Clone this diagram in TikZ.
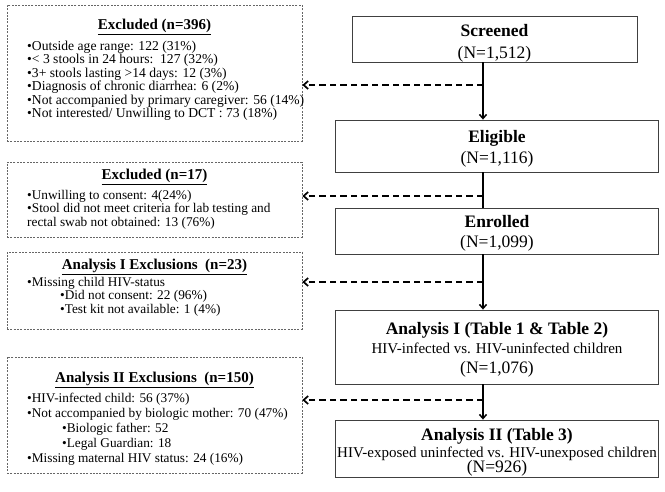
\documentclass[tikz,border=0pt]{standalone}
\usepackage{fontspec}
\setmainfont{Liberation Serif}
\usetikzlibrary{arrows.meta}
\begin{document}
\begin{tikzpicture}[x=1pt,y=-1pt,
  exbox/.style={draw=black!60, line width=0.7pt, dash pattern=on 2pt off 1.3pt, inner sep=0pt},
  mainbox/.style={draw=black!75, line width=0.8pt, inner sep=0pt},
  ttl/.style={anchor=base, font=\fontsize{15}{16}\selectfont\bfseries, inner sep=0pt},
  itm/.style={anchor=base west, font=\fontsize{13.3}{13.4}\selectfont, inner sep=0pt},
  itmb/.style={anchor=base west, font=\fontsize{13.6}{13.4}\selectfont, inner sep=0pt},
  bigb/.style={anchor=base, font=\fontsize{17.5}{20}\selectfont\bfseries, inner sep=0pt},
  bign/.style={anchor=base, font=\fontsize{17.5}{20}\selectfont, inner sep=0pt},
  medn/.style={anchor=base, font=\fontsize{15}{17}\selectfont, inner sep=0pt},
  flow/.style={line width=1.5pt, -{Straight Barb[length=4pt,width=7pt]}},
  flowplain/.style={line width=1.5pt},
  side/.style={line width=1.7pt, dash pattern=on 6.5pt off 4pt, -{Straight Barb[length=4.5pt,width=8pt]}}
]
\useasboundingbox (0,0) rectangle (665,492);

% ---------- left exclusion boxes ----------
\node[exbox, minimum width=295pt, minimum height=136pt] (x1) at (154.5,73) {};
\node[exbox, minimum width=295pt, minimum height=75pt] (x2) at (154.5,199.5) {};
\node[exbox, minimum width=295pt, minimum height=77pt] (x3) at (154.5,290.5) {};
\node[exbox, minimum width=295pt, minimum height=116pt] (x4) at (154.5,415) {};

\node[ttl] (x1t) at (154.5,30) {\underline{Excluded (n=396)}};
\foreach \t [count=\i] in {%
  {•Outside age range: 122 (31\%)},
  {•< 3 stools in 24 hours:\ \ 127 (32\%)},
  {•3+ stools lasting >14 days: 12 (3\%)},
  {•Diagnosis of chronic diarrhea: 6 (2\%)},
  {•Not accompanied by primary caregiver: 56 (14\%)},
  {•Not interested/ Unwilling to DCT : 73 (18\%)}}
  \node[itmb] (x1i\i) at (27,{50.6+13.4*(\i-1)}) {\t};

\node[ttl] (x2t) at (154.5,180) {\underline{Excluded (n=17)}};
\node[itm] (x2i1) at (27,199.4) {•Unwilling to consent: 4(24\%)};
\node[itm] (x2i2) at (27,212.8) {•Stool did not meet criteria for lab testing and};
\node[itm] (x2i3) at (27,226.2) {rectal swab not obtained: 13 (76\%)};

\node[ttl] (x3t) at (154.5,270) {\underline{Analysis I Exclusions\ \ (n=23)}};
\node[itm] (x3i1) at (27,286.4) {•Missing child HIV-status};
\node[itm] (x3i2) at (60,299.8) {•Did not consent: 22 (96\%)};
\node[itm] (x3i3) at (60,313.2) {•Test kit not available: 1 (4\%)};

\node[ttl] (x4t) at (154.5,382.8) {\underline{Analysis II Exclusions\ \ (n=150)}};
\node[itm] (x4i1) at (27,402.4) {•HIV-infected child: 56 (37\%)};
\node[itm] (x4i2) at (27,417.4) {•Not accompanied by biologic mother: 70 (47\%)};
\node[itm] (x4i3) at (62,432.4) {•Biologic father: 52};
\node[itm] (x4i4) at (62,447.4) {•Legal Guardian: 18};
\node[itm] (x4i5) at (27,462.4) {•Missing maternal HIV status: 24 (16\%)};

% ---------- main flow boxes ----------
\node[mainbox, minimum width=285pt, minimum height=46pt] (S) at (494.5,39) {};
\node[bigb] (St) at (494.5,36.8) {Screened};
\node[bign] (Sn) at (494.5,58.6) {(N=1,512)};

\node[mainbox, minimum width=323pt, minimum height=52pt] (E) at (496.5,146) {};
\node[bigb] (Et) at (497,142.8) {Eligible};
\node[bign] (En) at (497,163.8) {(N=1,116)};

\node[mainbox, minimum width=323pt, minimum height=46pt] (R) at (496.5,231) {};
\node[bigb] (Rt) at (497,227.8) {Enrolled};
\node[bign] (Rn) at (497,248.0) {(N=1,099)};

\node[mainbox, minimum width=323pt, minimum height=74pt] (A) at (496.5,347) {};
\node[bigb] (At) at (497,334.8) {Analysis I (Table 1 \& Table 2)};
\node[medn] (Ad) at (497,353.2) {HIV-infected vs. HIV-uninfected children};
\node[bign] (An) at (497,373.8) {(N=1,076)};

\node[mainbox, minimum width=323pt, minimum height=57pt] (B) at (496.5,448.5) {};
\node[bigb] (Bt) at (497,440.8) {Analysis II (Table 3)};
\node[medn] (Bd) at (497,457.0) {HIV-exposed uninfected vs. HIV-unexposed children};
\node[bign] (Bn) at (497,472.8) {(N=926)};

% ---------- connectors ----------
\coordinate (cx) at (483,0);
\draw[flow] (cx |- S.south) -- (cx |- E.north);
\draw[flowplain] (cx |- E.south) -- (cx |- R.north);
\draw[flow] (cx |- R.south) -- (cx |- A.north);
\draw[flow] (cx |- A.south) -- (cx |- B.north);

\coordinate (j1) at (483,85);
\coordinate (j2) at (483,196);
\coordinate (j3) at (483,282);
\coordinate (j4) at (483,400);
\draw[side] (j1) -- (j1 -| x1.east);
\draw[side] (j2) -- (j2 -| x2.east);
\draw[side] (j3) -- (j3 -| x3.east);
\draw[side] (j4) -- (j4 -| x4.east);
\end{tikzpicture}
\end{document}
